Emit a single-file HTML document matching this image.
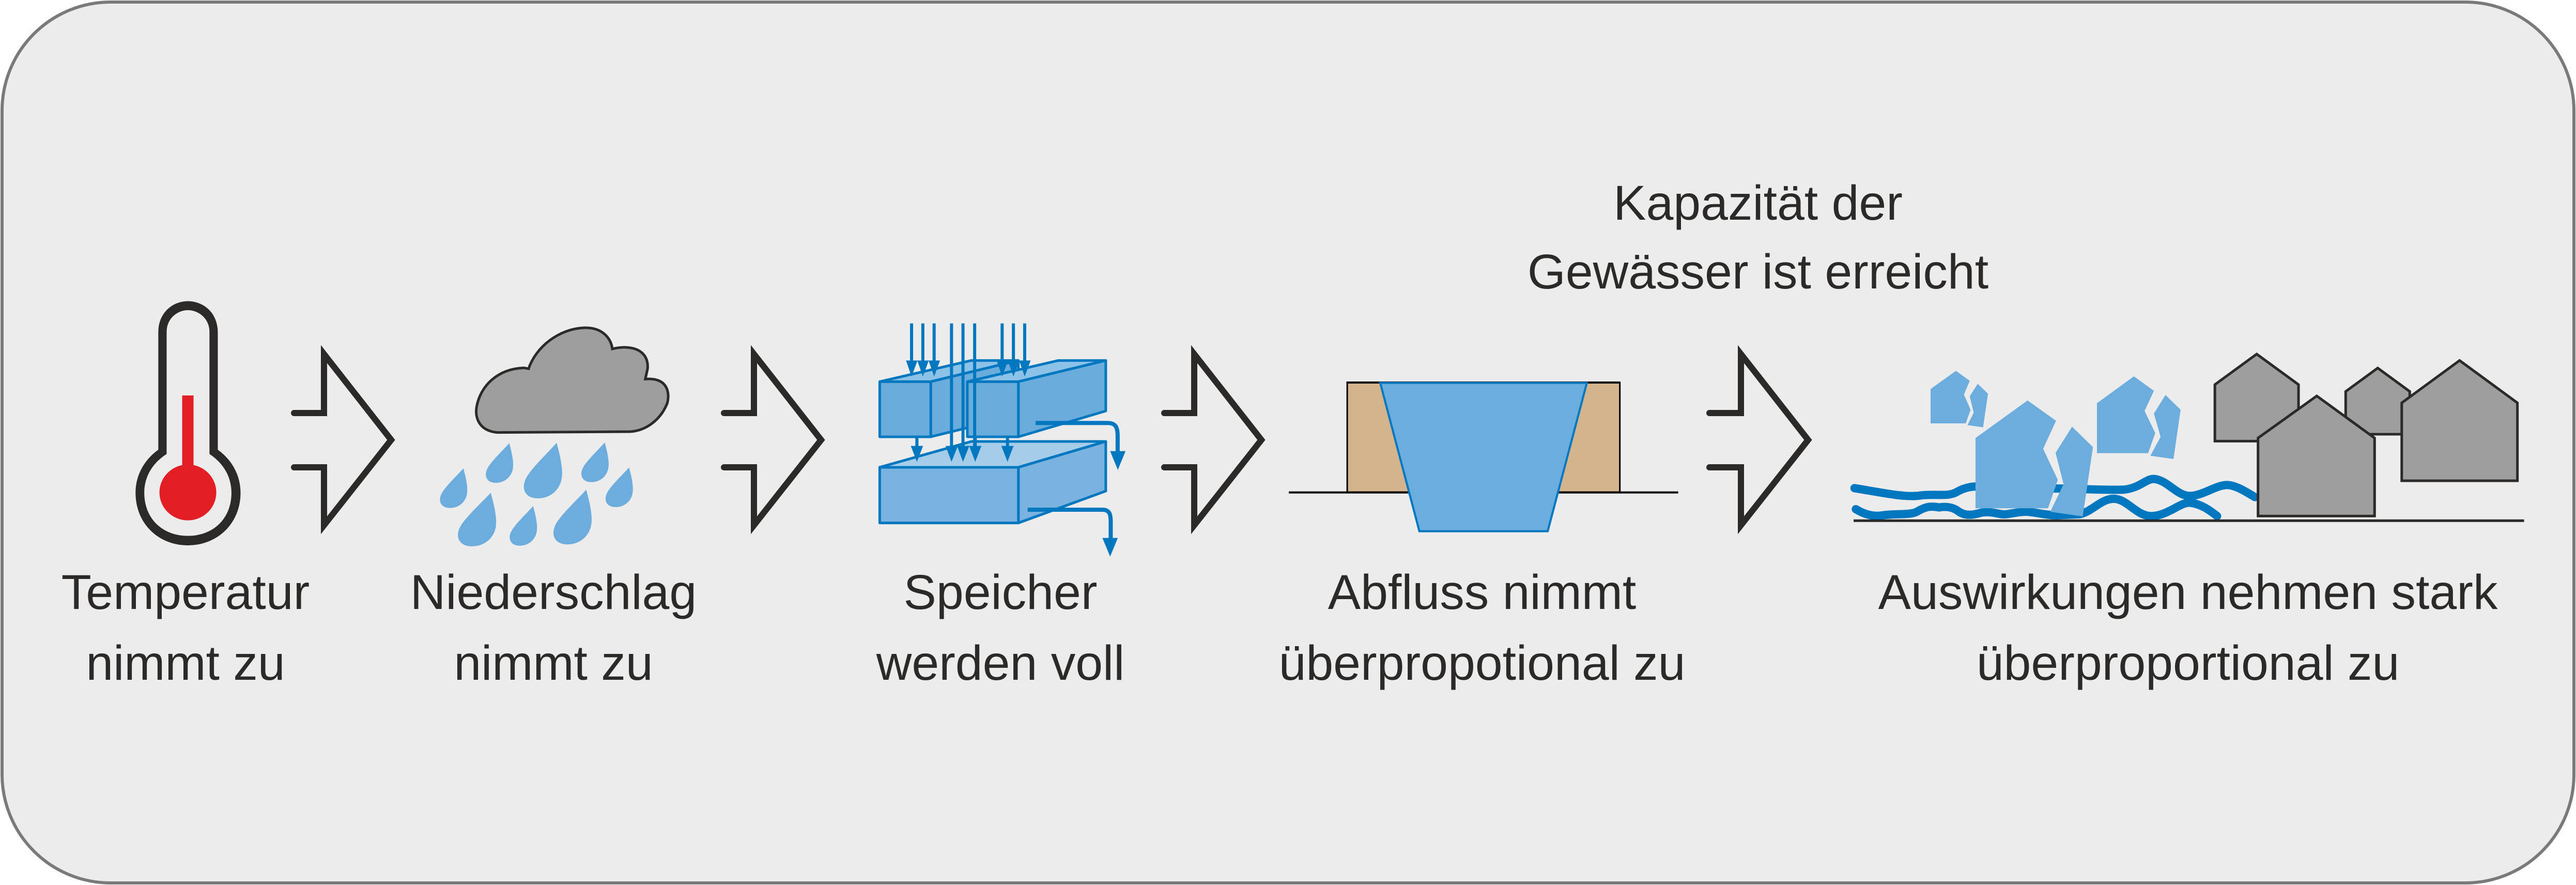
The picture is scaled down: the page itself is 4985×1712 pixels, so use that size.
<!DOCTYPE html>
<html><head><meta charset="utf-8"><style>
html,body{margin:0;padding:0;background:#fff;}
svg{display:block;}
text{font-family:"Liberation Sans",sans-serif;font-size:95px;fill:#2b2a29;text-anchor:middle;}
</style></head><body>
<svg width="4985" height="1712" xmlns="http://www.w3.org/2000/svg">
<rect x="4" y="4" width="4977" height="1704" rx="210" ry="210" fill="#ebeceb" stroke="#7a7a7a" stroke-width="6"/>

<g transform="translate(200,560) scale(0.7334,0.3333)">
<path d="M145,250 C145,130 185,68 223,68 C262,68 302,130 302,250 L302,930 C340,990 362,1080 362,1180 C362,1360 300,1485 223,1485 C146,1485 85,1360 85,1180 C85,1080 107,990 145,930 Z" fill="#2b2a29"/>
<path d="M167,245 C167,170 195,120 223,120 C252,120 280,170 280,245 L280,955 C318,1010 338,1090 338,1180 C338,1330 290,1430 223,1430 C156,1430 108,1330 108,1180 C108,1090 128,1010 167,955 Z" fill="#ebeceb"/>
<rect x="208" y="615" width="30" height="420" fill="#e31f26"/>
<ellipse cx="223" cy="1178" rx="75" ry="162" fill="#e31f26"/>
<path d="M1040,830 C990,820 980,740 985,680 C995,560 1040,460 1110,455 L1122,460 C1140,340 1200,225 1272,222 C1320,222 1340,290 1343,345 C1400,315 1440,360 1436,460 L1430,520 C1490,510 1495,600 1488,660 C1470,760 1430,820 1390,825 Z" fill="#9d9e9d" stroke="#2b2a29" stroke-width="5" vector-effect="non-scaling-stroke"/>
<g fill="#6cadde">
<path transform="translate(950,1038)" d="M0,0 C5,40 12,100 10,140 C8,190 -10,230 -35,230 C-60,230 -65,190 -60,160 C-55,120 -20,50 0,0 Z"/>
<path transform="translate(1071,892)" d="M0,0 C5,40 12,100 10,140 C8,190 -10,230 -35,230 C-60,230 -65,190 -60,160 C-55,120 -20,50 0,0 Z"/>
<path transform="translate(1323,888)" d="M0,0 C5,40 12,100 10,140 C8,190 -10,230 -35,230 C-60,230 -65,190 -60,160 C-55,120 -20,50 0,0 Z"/>
<path transform="translate(1387,1033)" d="M0,0 C5,40 12,100 10,140 C8,190 -10,230 -35,230 C-60,230 -65,190 -60,160 C-55,120 -20,50 0,0 Z"/>
<path transform="translate(1134,1257)" d="M0,0 C5,40 12,100 10,140 C8,190 -10,230 -35,230 C-60,230 -65,190 -60,160 C-55,120 -20,50 0,0 Z"/>
<path transform="translate(1196,890) scale(1.4,1.4)" d="M0,0 C5,40 12,100 10,140 C8,190 -10,230 -35,230 C-60,230 -65,190 -60,160 C-55,120 -20,50 0,0 Z"/>
<path transform="translate(1022,1180) scale(1.4,1.35)" d="M0,0 C5,40 12,100 10,140 C8,190 -10,230 -35,230 C-60,230 -65,190 -60,160 C-55,120 -20,50 0,0 Z"/>
<path transform="translate(1274,1162) scale(1.4,1.38)" d="M0,0 C5,40 12,100 10,140 C8,190 -10,230 -35,230 C-60,230 -65,190 -60,160 C-55,120 -20,50 0,0 Z"/>
</g>
</g>

<g fill="none" stroke="#2b2a29" stroke-width="12" stroke-linejoin="miter" stroke-linecap="round">
<path d="M569,799 H627 V685 L757,851 L627,1016 V904 H569"/>
<path d="M1401,799 H1459 V685 L1589,851 L1459,1016 V904 H1401"/>
<path d="M2253,799 H2311 V685 L2441,851 L2311,1016 V904 H2253"/>
<path d="M3308,799 H3369 V685 L3499,851 L3369,1016 V904 H3308"/>
</g>

<g transform="translate(1650,580) scale(0.3827,0.3333)" stroke="#0077bf" stroke-linejoin="round">
<path d="M137,972 L600,822 L1280,822 L838,972 Z" fill="#a5cdea" stroke-width="5" vector-effect="non-scaling-stroke"/>
<path d="M838,972 L1280,822 L1280,1110 L838,1295 Z" fill="#7ab3e0" stroke-width="5" vector-effect="non-scaling-stroke"/>
<rect x="137" y="972" width="701" height="323" fill="#7ab3e0" stroke-width="5" vector-effect="non-scaling-stroke"/>
<path d="M137,475 L600,352 L838,352 L395,475 Z" fill="#8cc1e8" stroke-width="5" vector-effect="non-scaling-stroke"/>
<path d="M395,475 L838,352 L838,670 L395,795 Z" fill="#6aaddd" stroke-width="5" vector-effect="non-scaling-stroke"/>
<rect x="137" y="475" width="258" height="320" fill="#6aaddd" stroke-width="5" vector-effect="non-scaling-stroke"/>
<path d="M580,475 L1040,352 L1280,352 L838,475 Z" fill="#8cc1e8" stroke-width="5" vector-effect="non-scaling-stroke"/>
<path d="M838,475 L1280,352 L1280,645 L838,795 Z" fill="#6aaddd" stroke-width="5" vector-effect="non-scaling-stroke"/>
<rect x="580" y="475" width="258" height="320" fill="#6aaddd" stroke-width="5" vector-effect="non-scaling-stroke"/>
<path d="M298,137V400M355,137V400M412,137V400M500,137V880M558,137V880M617,137V880M756,137V400M813,137V400M870,137V400M325,795V880M620,795V880M783,795V880" fill="none" stroke-width="6" vector-effect="non-scaling-stroke"/>
<g fill="#0077bf" stroke="none">
<path d="M270,352 L328,352 L298,445Z M327,352 L385,352 L355,445Z M384,352 L442,352 L412,445Z M728,352 L786,352 L756,445Z M785,352 L843,352 L813,445Z M842,352 L900,352 L870,445Z"/>
<path d="M294,848 L356,848 L325,940Z M470,848 L532,848 L500,940Z M528,848 L590,848 L558,940Z M589,848 L651,848 L620,940Z M752,848 L814,848 L783,940Z"/>
<path d="M1302,878 L1380,878 L1341,987Z M1263,1382 L1341,1382 L1302,1490Z"/>
</g>
<path d="M925,715 H1290 C1330,715 1340,740 1340,790 V890 M885,1218 H1262 C1300,1218 1305,1245 1305,1290 V1390" fill="none" stroke="#0077bf" stroke-width="8" vector-effect="non-scaling-stroke"/>
</g>

<g transform="translate(2450,640) scale(0.7015,0.3333)">
<line x1="63" y1="938" x2="1137" y2="938" stroke="#000" stroke-width="4" vector-effect="non-scaling-stroke"/>
<rect x="224" y="300" width="752" height="636" fill="#d4b48c" stroke="#000" stroke-width="3" vector-effect="non-scaling-stroke"/>
<line x1="222" y1="300" x2="977" y2="300" stroke="#000" stroke-width="4" vector-effect="non-scaling-stroke"/>
<path d="M315,302 L885,302 L777,1163 L423,1163 Z" fill="#6aaddf" stroke="#0077bf" stroke-width="4" vector-effect="non-scaling-stroke"/>
</g>

<g transform="translate(3550,650) scale(0.861,0.3333)">
<g fill="none" stroke="#0077bf" stroke-width="16" stroke-linecap="round">
<path vector-effect="non-scaling-stroke" d="M45,883 C110,910 160,940 195,925 C230,915 255,935 275,905 C295,875 320,865 340,880 L500,885 C540,885 600,895 650,892 C690,880 700,825 720,830 C750,840 770,930 800,928 C830,925 860,860 885,865 C905,870 925,905 945,935"/>
<path vector-effect="non-scaling-stroke" d="M48,1005 C70,1040 90,1050 110,1040 C140,1030 170,1040 185,1020 C205,990 215,985 235,995 C255,985 270,1000 280,1020 C295,1045 310,1040 330,1025 C350,1015 370,1035 380,1035 C395,1035 410,1020 430,1020 C450,1020 470,1040 500,1040 L550,1035 C580,1020 600,940 630,945 C660,950 680,1050 715,1045 C750,1040 780,960 800,968 C825,975 845,1015 860,1045"/>
</g>
<g fill="#6cadde">
<path d="M216,507 L216,308 L273,202 L304,260 L291,340 L306,428 L295,507Z"/>
<path d="M304,350 L322,277 L345,335 L334,530 L299,517 L313,445Z"/>
<path d="M590,680 L590,390 L673,234 L718,318 L697,435 L721,563 L705,680Z"/>
<path d="M718,450 L744,342 L778,428 L762,714 L710,695 L733,585Z"/>
<path d="M317,1000 L317,592 L434,374 L498,492 L469,655 L502,835 L480,1000Z"/>
<path d="M497,678 L534,526 L581,645 L558,1047 L485,1020 L515,860Z"/>
</g>
<g fill="#9d9e9d" stroke="#2b2a29" stroke-width="5" stroke-linejoin="miter">
<path vector-effect="non-scaling-stroke" d="M855,610 L855,282 L949,105 L1043,282 L1043,610Z"/>
<path vector-effect="non-scaling-stroke" d="M1149,570 L1149,322 L1221,186 L1293,322 L1293,570Z"/>
<path vector-effect="non-scaling-stroke" d="M1275,840 L1275,388 L1405,142 L1535,388 L1535,840Z"/>
<path vector-effect="non-scaling-stroke" d="M952,1045 L952,592 L1084,348 L1214,592 L1214,1045Z"/>
</g>
<line x1="43" y1="1072" x2="1550" y2="1072" stroke="#2b2a29" stroke-width="5" vector-effect="non-scaling-stroke"/>
</g>

<text x="359" y="1178">Temperatur</text>
<text x="359" y="1315">nimmt zu</text>
<text x="1071" y="1178">Niederschlag</text>
<text x="1071" y="1315">nimmt zu</text>
<text x="1936" y="1178">Speicher</text>
<text x="1936" y="1315">werden voll</text>
<text x="2868" y="1178">Abfluss nimmt</text>
<text x="2868" y="1315">überpropotional zu</text>
<text x="4234" y="1178">Auswirkungen nehmen stark</text>
<text x="4234" y="1315">überproportional zu</text>
<text x="3402" y="425">Kapazität der</text>
<text x="3402" y="558">Gewässer ist erreicht</text>
</svg>
</body></html>
